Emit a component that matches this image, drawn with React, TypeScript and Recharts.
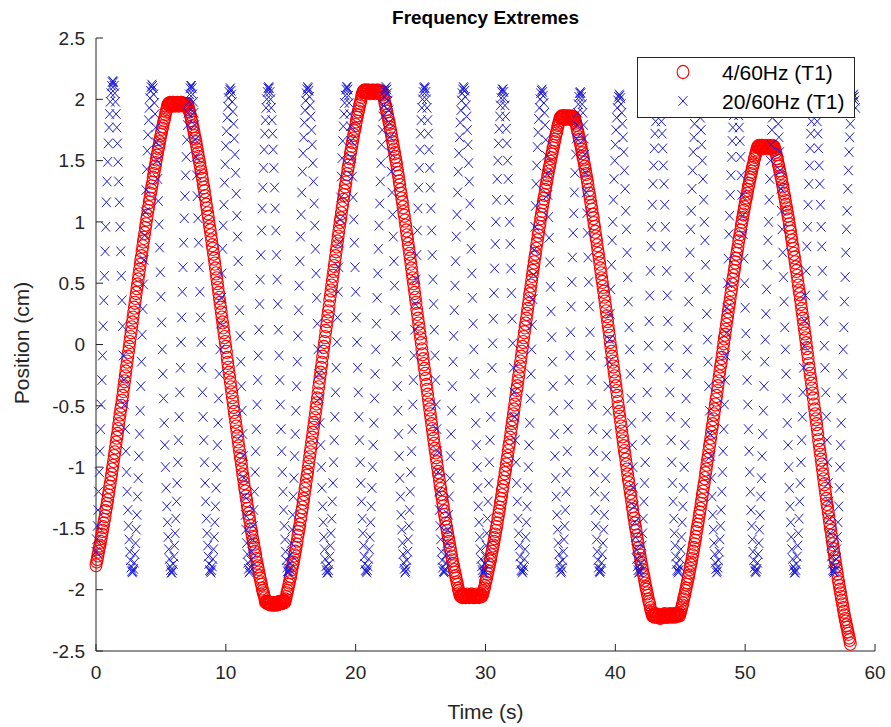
import React from 'react';
import { ScatterChart, Scatter, XAxis, YAxis } from 'recharts';

const FONT = 'Arial, "Liberation Sans", Helvetica, sans-serif';
const AXIS_COLOR = '#262626';
const RED = '#ff0000';
const BLUE = '#1c1cda';

const TITLE = 'Frequency Extremes';
const X_LABEL = 'Time (s)';
const Y_LABEL = 'Position (cm)';
const SERIES_NAMES = ['4/60Hz (T1)', '20/60Hz (T1)'];
const X_TICKS = [0, 10, 20, 30, 40, 50, 60];
const Y_TICKS = [-2.5, -2, -1.5, -1, -0.5, 0, 0.5, 1, 1.5, 2, 2.5];

// sampling step (s) shared by both series
const RED_DT = 0.05;
const BLUE_DT = 0.05;

// ---- 4/60Hz series, position in hundredths of cm, read segment by segment ----
const RED_RISE_1 = [-180,-177,-175,-172,-169,-166,-164,-161,-158,-155,-152,-149,-146,-143,-140,-136,-133,-130,-127,-123,-120,-116,-113,-109,-106,-102,-99,-95,-91,-88,-84,-80,-76,-73,-69,-65,-61,-57,-53,-50,-46,-42,-38,-34,-30,-26,-22,-18,-14,-10,-6,-2,2,6,10,14,18,22,26,30,34,38,42,46,49,53,57,61,65,69,72,76,80,84,87,91,95,98,102,105,109,112,116,119,123,126,129,132,136,139,142,145,148,151,154,157,160,162,165,168,171,173,176,178,181,183,185,188,190,192,194,196];
const RED_PEAK_1 = [196,196,197,196,195,196,197,197,196,195,195,196,196,197,196,195,195,196,196,197,197,196,195,195,196,196,195,196,196];
const RED_FALL_1 = [196,194,192,190,188,186,183,181,178,176,173,170,168,165,162,159,156,153,150,147,144,141,138,135,131,128,125,121,118,114,111,107,104,100,96,93,89,85,81,78,74,70,66,62,58,54,50,46,42,38,34,30,26,22,18,14,10,6,2,-2,-6,-11,-15,-19,-23,-27,-31,-35,-39,-43,-47,-51,-55,-59,-63,-67,-71,-75,-79,-83,-87,-91,-94,-98,-102,-106,-109,-113,-117,-120,-124,-127,-131,-134,-138,-141,-144,-148,-151,-154,-157,-160,-163,-166,-169,-172,-175,-178,-181,-183,-186,-189,-191,-194,-196,-199,-201,-203,-205,-207,-210];
const RED_TROUGH_1 = [-210,-210,-211,-210,-211,-211,-212,-211,-211,-212,-212,-211,-212,-212,-211,-212,-211,-211,-212,-211,-210,-211,-211,-210,-210,-211,-210,-210,-209];
const RED_RISE_2 = [-210,-208,-206,-203,-201,-199,-196,-194,-191,-189,-186,-183,-180,-178,-175,-172,-169,-166,-163,-160,-156,-153,-150,-147,-143,-140,-136,-133,-129,-126,-122,-118,-115,-111,-107,-104,-100,-96,-92,-88,-84,-80,-76,-72,-68,-64,-60,-56,-52,-48,-44,-40,-35,-31,-27,-23,-19,-15,-10,-6,-2,2,6,11,15,19,23,27,31,36,40,44,48,52,56,60,64,68,72,76,80,84,88,92,96,100,103,107,111,114,118,122,125,129,132,136,139,143,146,149,152,156,159,162,165,168,171,174,176,179,182,185,187,190,192,195,197,199,202,204,206];
const RED_PEAK_2 = [206,207,207,206,207,206,206,207,207,206,205,206,206,207,206,206,207,206,205,206,206,207,207,206,206,205,206,206,206];
const RED_FALL_2 = [206,204,202,200,197,195,192,190,187,185,182,180,177,174,171,168,165,162,159,156,153,150,147,143,140,137,133,130,126,123,119,116,112,108,105,101,97,93,89,86,82,78,74,70,66,62,58,54,50,46,42,38,34,29,25,21,17,13,9,5,1,-4,-8,-12,-16,-20,-24,-28,-33,-37,-41,-45,-49,-53,-57,-61,-65,-69,-73,-77,-81,-85,-88,-92,-96,-100,-104,-107,-111,-115,-118,-122,-125,-129,-132,-136,-139,-142,-146,-149,-152,-155,-158,-161,-164,-167,-170,-173,-176,-179,-181,-184,-186,-189,-191,-194,-196,-199,-201,-203,-205];
const RED_TROUGH_2 = [-205,-205,-206,-205,-204,-205,-205,-206,-206,-205,-204,-205,-205,-206,-205,-205,-204,-204,-205,-206,-205,-205,-206,-205,-204,-205,-205,-205,-206,-205,-204,-205,-205];
const RED_RISE_3 = [-205,-203,-201,-199,-197,-194,-192,-190,-187,-185,-182,-180,-177,-175,-172,-169,-166,-164,-161,-158,-155,-152,-149,-146,-142,-139,-136,-133,-129,-126,-123,-119,-116,-112,-109,-105,-102,-98,-94,-91,-87,-83,-80,-76,-72,-68,-64,-61,-57,-53,-49,-45,-41,-37,-34,-30,-26,-22,-18,-14,-10,-6,-2,2,6,10,14,17,21,25,29,33,37,41,44,48,52,56,60,63,67,71,74,78,82,85,89,92,96,99,103,106,109,113,116,119,122,126,129,132,135,138,141,144,146,149,152,155,157,160,162,165,167,170,172,174,177,179,181,183,185];
const RED_PEAK_3 = [185,186,185,185,186,186,185,184,185,186,185,185,186,185,184,185,185,186,185,185,185];
const RED_FALL_3 = [185,183,181,179,176,174,172,169,167,164,162,159,156,153,151,148,145,142,139,136,133,130,126,123,120,116,113,110,106,103,99,96,92,88,85,81,77,74,70,66,62,58,54,51,47,43,39,35,31,27,23,19,15,11,7,2,-2,-6,-10,-14,-18,-22,-26,-30,-34,-38,-42,-47,-51,-55,-59,-63,-67,-71,-75,-79,-83,-87,-90,-94,-98,-102,-106,-110,-113,-117,-121,-124,-128,-132,-135,-139,-142,-146,-149,-152,-156,-159,-162,-166,-169,-172,-175,-178,-181,-184,-187,-189,-192,-195,-198,-200,-203,-205,-208,-210,-212,-215,-217,-219,-221];
const RED_TROUGH_3 = [-221,-221,-222,-221,-220,-221,-222,-222,-221,-221,-222,-223,-222,-221,-221,-222,-222,-221,-220,-221,-222,-222,-221,-221,-222,-221,-220,-221,-221,-222,-221,-221,-220,-221,-222,-221,-221,-220,-221,-221,-220];
const RED_RISE_4 = [-221,-219,-217,-215,-213,-211,-208,-206,-204,-201,-199,-196,-194,-191,-189,-186,-183,-180,-178,-175,-172,-169,-166,-163,-160,-157,-153,-150,-147,-144,-140,-137,-134,-130,-127,-123,-120,-116,-113,-109,-105,-102,-98,-94,-91,-87,-83,-80,-76,-72,-68,-65,-61,-57,-53,-49,-45,-42,-38,-34,-30,-26,-22,-18,-15,-11,-7,-3,1,5,8,12,16,20,23,27,31,34,38,42,45,49,53,56,60,63,67,70,74,77,80,84,87,90,93,97,100,103,106,109,112,115,118,120,123,126,129,131,134,136,139,141,144,146,148,151,153,155,157,159,161];
const RED_PEAK_4 = [161,162,161,160,161,162,162,161,160,161,161,162,161,161,160,161,162,161,161,160,161,161,162,161,161];
const RED_FALL_4 = [161,159,157,155,152,150,147,145,142,140,137,135,132,129,126,123,120,117,114,111,108,105,102,98,95,92,88,85,81,78,74,71,67,63,60,56,52,48,44,41,37,33,29,25,21,17,13,9,5,1,-3,-7,-11,-16,-20,-24,-28,-32,-36,-40,-44,-49,-53,-57,-61,-65,-69,-73,-78,-82,-86,-90,-94,-98,-102,-106,-110,-114,-118,-122,-126,-130,-133,-137,-141,-145,-149,-152,-156,-160,-163,-167,-170,-174,-177,-181,-184,-187,-191,-194,-197,-200,-203,-206,-209,-212,-215,-218,-221,-224,-226,-229,-231,-234,-236,-239,-241,-244];

const RED_SEGMENTS = [
  RED_RISE_1, RED_PEAK_1, RED_FALL_1, RED_TROUGH_1,
  RED_RISE_2, RED_PEAK_2, RED_FALL_2, RED_TROUGH_2,
  RED_RISE_3, RED_PEAK_3, RED_FALL_3, RED_TROUGH_3,
  RED_RISE_4, RED_PEAK_4, RED_FALL_4,
];

// ---- 20/60Hz series, one array per 3 s cycle (trough -> peak -> trough), hundredths of cm ----
const BLUE_CYCLE_1 = [-169,-159,-148,-135,-120,-104,-87,-69,-49,-29,-9,15,36,56,76,96,116,133,149,164,177,188,198,205,211,214,215,214,211,205,198,188,177,164,149,133,116,96,76,56,36,15,-9,-29,-49,-69,-87,-104,-120,-135,-148,-159,-169,-176,-182,-185];
const BLUE_CYCLE_2 = [-186,-185,-183,-178,-171,-162,-151,-139,-124,-109,-91,-73,-54,-34,-14,8,29,49,69,89,108,126,143,158,171,183,193,201,207,210,212,211,209,204,197,188,177,165,150,135,117,98,79,59,39,18,-4,-24,-44,-64,-82,-100,-117,-132,-145,-157,-167,-175,-181,-184];
const BLUE_CYCLE_3 = [-186,-186,-184,-179,-173,-164,-154,-142,-128,-113,-96,-78,-59,-39,-19,2,22,43,63,83,103,121,138,153,167,179,189,198,204,209,211,211,209,204,198,189,179,167,153,138,121,103,83,63,43,22,2,-19,-39,-59,-78,-96,-113,-128,-142,-154,-164,-173,-179,-184];
const BLUE_CYCLE_4 = [-185,-186,-184,-181,-175,-167,-157,-145,-132,-117,-100,-82,-64,-44,-24,-4,17,38,58,78,97,114,132,147,162,174,185,194,201,206,208,209,207,204,198,190,180,168,155,140,123,105,88,68,48,28,7,-14,-34,-54,-73,-91,-109,-124,-139,-151,-162,-171,-178,-183];
const BLUE_CYCLE_A = [-186,-185,-182,-176,-169,-159,-148,-135,-120,-104,-87,-69,-49,-29,-9,12,33,53,73,93,111,128,144,159,172,183,193,200,206,209,210,209,206,200,193,183,172,159,144,128,111,93,73,53,33,12,-9,-29,-49,-69,-87,-104,-120,-135,-148,-159,-169,-176,-182,-185];
const BLUE_CYCLE_B = [-186,-185,-183,-178,-171,-162,-151,-139,-124,-109,-91,-73,-54,-34,-14,7,28,48,68,88,106,124,141,156,169,181,191,199,205,208,210,209,207,202,195,186,175,163,148,133,115,97,78,58,38,17,-4,-24,-44,-64,-82,-100,-117,-132,-145,-157,-167,-175,-181,-184];
const BLUE_CYCLE_C = [-186,-186,-184,-179,-173,-164,-154,-142,-128,-113,-96,-78,-59,-39,-19,2,22,43,63,83,102,120,137,152,166,178,188,197,203,208,210,210,208,203,197,188,178,166,152,137,120,102,83,63,43,22,2,-19,-39,-59,-78,-96,-113,-128,-142,-154,-164,-173,-179,-184];
const BLUE_CYCLE_D = [-185,-186,-184,-181,-175,-167,-157,-145,-132,-117,-100,-82,-64,-44,-24,-4,17,38,58,78,97,115,133,148,163,175,186,195,202,207,209,210,208,205,199,191,181,169,156,141,124,106,88,68,48,28,7,-14,-34,-54,-73,-91,-109,-124,-139,-151,-162,-171,-178,-183];
const BLUE_CYCLE_11 = [-186,-186,-184,-179,-173,-164,-154,-142,-128,-113,-96,-78,-59,-39,-19,1,21,42,62,82,100,118,135,150,164,176,186,195,201,206,208,208,206,201,195,186,176,164,150,135,118,100,82,62,42,21,1,-19,-39,-59,-78,-96,-113,-128,-142,-154,-164,-173,-179,-184];
const BLUE_CYCLE_12 = [-185,-186,-184,-181,-175,-167,-157,-145,-132,-117,-100,-82,-64,-44,-24,-4,16,37,57,77,96,113,131,146,161,173,184,193,200,205,207,208,206,203,197,189,179,167,154,139,122,104,87,67,47,27,6,-14,-34,-54,-73,-91,-109,-124,-139,-151,-162,-171,-178,-183];
const BLUE_CYCLE_13 = [-186,-185,-182,-176,-169,-159,-148,-135,-120,-104,-87,-69,-49,-29,-9,10,31,51,71,91,107,124,140,155,168,179,189,196,202,205,206,205,202,196,189,179,168,155,140,124,107,91,71,51,31,10,-9,-29,-49,-69,-87,-104,-120,-135,-148,-159,-169,-176,-182,-185];
const BLUE_CYCLE_14 = [-186,-185,-183,-178,-171,-162,-151,-139,-124,-109,-91,-73,-54,-34,-14,4,25,45,65,85,100,118,135,150,163,175,185,193,199,202,204,203,201,196,189,180,169,157,142,127,109,94,75,55,35,14,-4,-24,-44,-64,-82,-100,-117,-132,-145,-157,-167,-175,-181,-184];
const BLUE_CYCLE_15 = [-186,-186,-184,-179,-173,-164,-154,-142,-128,-113,-96,-78,-59,-39,-19,-1,19,40,60,80,96,114,131,146,160,172,182,191,197,202,204,204,202,197,191,182,172,160,146,131,114,96,80,60,40,19,-1,-19,-39,-59,-78,-96,-113,-128,-142,-154,-164,-173,-179,-184];
const BLUE_CYCLE_16 = [-185,-186,-184,-181,-175,-167,-157,-145,-132,-117,-100,-82,-64,-44,-24,-4,14,35,55,75,94,109,127,142,157,169,180,189,196,201,203,204,202,199,193,185,175,163,150,135,118,100,85,65,45,25,4,-14,-34,-54,-73,-91,-109,-124,-139,-151,-162,-171,-178,-183];
const BLUE_CYCLE_17 = [-186,-185,-182,-176,-169,-159,-148,-135,-120,-104,-87,-69,-49,-29,-9,9,30,50,70,90,105,122,138,153,166,177,187,194,200,203,204,203,200,194,187,177,166,153,138,122,105,90,70,50,30,9,-9,-29,-49,-69,-87,-104,-120,-135,-148,-159,-169,-176,-182,-185];
const BLUE_CYCLE_20 = [-185,-186,-184,-181,-175,-167,-157,-145,-132,-117,-100,-82,-64,-44,-24,-4,14,35,55,75,94,109,127,142,157,169,180,189,196,201,203,204,202,199,193];

const BLUE_CYCLES = [
  BLUE_CYCLE_1, BLUE_CYCLE_2, BLUE_CYCLE_3, BLUE_CYCLE_4,
  BLUE_CYCLE_A, BLUE_CYCLE_B, BLUE_CYCLE_C, BLUE_CYCLE_D,
  BLUE_CYCLE_A, BLUE_CYCLE_B, BLUE_CYCLE_11, BLUE_CYCLE_12,
  BLUE_CYCLE_13, BLUE_CYCLE_14, BLUE_CYCLE_15, BLUE_CYCLE_16,
  BLUE_CYCLE_17, BLUE_CYCLE_14, BLUE_CYCLE_15, BLUE_CYCLE_20,
];

const redData = RED_SEGMENTS.flat().map((v, i) => ({ t: Math.round(i * RED_DT * 1000) / 1000, v: v / 100 }));
const blueData = BLUE_CYCLES.flat().map((v, i) => ({ t: Math.round(i * BLUE_DT * 1000) / 1000, v: v / 100 }));

function RedMarker(props: any) {
  const { cx, cy } = props;
  if (typeof cx !== 'number' || typeof cy !== 'number') return null;
  return <ellipse cx={cx} cy={cy} rx={5.9} ry={6.6} fill="none" stroke={RED} strokeWidth={1.1} />;
}

function BlueMarker(props: any) {
  const { cx, cy } = props;
  if (typeof cx !== 'number' || typeof cy !== 'number') return null;
  const sx = 4.4;
  const sy = 4.8;
  return (
    <path
      d={`M${cx - sx} ${cy - sy}L${cx + sx} ${cy + sy}M${cx - sx} ${cy + sy}L${cx + sx} ${cy - sy}`}
      stroke={BLUE}
      strokeWidth={1}
      fill="none"
    />
  );
}

export default function App() {
  return (
    <div style={{ position: 'absolute', left: 0, top: 0, width: 891, height: 727, background: '#fff', fontFamily: FONT }}>
      <ScatterChart width={891} height={727} margin={{ top: 38, right: 16, bottom: 36, left: 36 }}>
        <XAxis
          type="number"
          dataKey="t"
          domain={[0, 60]}
          ticks={X_TICKS}
          interval={0}
          height={40}
          tickSize={-7}
          tickMargin={22}
          axisLine={{ stroke: AXIS_COLOR }}
          tickLine={{ stroke: AXIS_COLOR }}
          tick={{ fill: AXIS_COLOR, fontSize: 19, fontFamily: FONT }}
        />
        <YAxis
          type="number"
          dataKey="v"
          domain={[-2.5, 2.5]}
          ticks={Y_TICKS}
          interval={0}
          width={60}
          tickSize={-7}
          tickMargin={18}
          axisLine={{ stroke: AXIS_COLOR }}
          tickLine={{ stroke: AXIS_COLOR }}
          tick={{ fill: AXIS_COLOR, fontSize: 19, fontFamily: FONT }}
          tickFormatter={(v: number) => String(v)}
        />
        <Scatter name={SERIES_NAMES[0]} data={redData} shape={RedMarker} isAnimationActive={false} />
        <Scatter name={SERIES_NAMES[1]} data={blueData} shape={BlueMarker} isAnimationActive={false} />
      </ScatterChart>

      <div style={{ position: 'absolute', left: 0, width: 971, top: 7, textAlign: 'center', fontSize: 19, lineHeight: '22px', fontWeight: 'bold', color: '#000' }}>
        {TITLE}
      </div>
      <div style={{ position: 'absolute', left: 0, width: 971, top: 699, textAlign: 'center', fontSize: 21, lineHeight: '26px', color: AXIS_COLOR }}>
        {X_LABEL}
      </div>
      <div style={{ position: 'absolute', left: 22, top: 343, transform: 'translate(-50%, -50%) rotate(-90deg)', whiteSpace: 'nowrap', fontSize: 21, lineHeight: '26px', color: AXIS_COLOR }}>
        {Y_LABEL}
      </div>

      <div style={{ position: 'absolute', left: 637, top: 57, width: 218, height: 61, border: '1px solid #262626', background: '#fff', boxSizing: 'border-box' }}>
        <svg width={216} height={59} style={{ position: 'absolute', left: 0, top: 0 }}>
          <ellipse cx={45} cy={14} rx={5.9} ry={6.6} fill="none" stroke={RED} strokeWidth={1.1} />
          <path d="M40.6 38.2L49.4 47.8M40.6 47.8L49.4 38.2" stroke={BLUE} strokeWidth={1} fill="none" />
          <text x={84} y={14} dominantBaseline="central" fontSize={21} fontFamily={FONT} fill="#000">{SERIES_NAMES[0]}</text>
          <text x={84} y={43} dominantBaseline="central" fontSize={21} fontFamily={FONT} fill="#000">{SERIES_NAMES[1]}</text>
        </svg>
      </div>
    </div>
  );
}
